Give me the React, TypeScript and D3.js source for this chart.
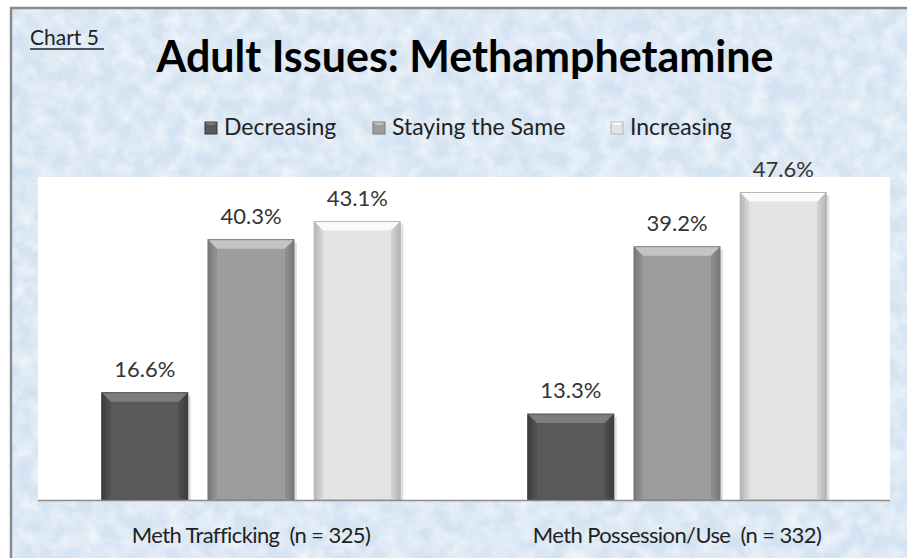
import React, { useEffect, useRef } from 'react';
import { select, scaleBand, scaleLinear } from 'd3';

const categories = ['Meth Trafficking  (n = 325)', 'Meth Possession/Use  (n = 332)'];
const seriesNames = ['Decreasing', 'Staying the Same', 'Increasing'];
const decreasing = [16.6, 13.3];
const stayingSame = [40.3, 39.2];
const increasing = [43.1, 47.6];

const seriesValues = [decreasing, stayingSame, increasing];

// base / bevel / edge colours per series
const barColors = [
  { base: '#595959', light: '#7d7d7d', dark: '#3b3b3b' },
  { base: '#9d9d9d', light: '#c4c4c4', dark: '#777777' },
  { base: '#e3e3e3', light: '#fafafa', dark: '#b4b4b4' },
];

const W = 907;
const H = 558;
const FONT = 'Lato, "Open Sans", sans-serif';

const App: React.FC = () => {
  const svgRef = useRef<SVGSVGElement>(null);

  useEffect(() => {
    if (!svgRef.current) return;
    const svg = select(svgRef.current);
    svg.selectAll('*').remove();

    const defs = svg.append('defs');
    const f = defs.append('filter').attr('id', 'paper').attr('x', 0).attr('y', 0).attr('width', '100%').attr('height', '100%');
    f.append('feTurbulence').attr('type', 'fractalNoise').attr('baseFrequency', 0.06).attr('numOctaves', 4).attr('seed', 7).attr('result', 'n');
    f.append('feColorMatrix').attr('in', 'n').attr('type', 'matrix')
      .attr('values', '0 0 0 0 1  0 0 0 0 1  0 0 0 0 1  1.6 0 0 0 -0.5');

    barColors.forEach((c, i) => {
      const g = defs.append('linearGradient').attr('id', `bar${i}`).attr('x1', 0).attr('x2', 1).attr('y1', 0).attr('y2', 0);
      g.append('stop').attr('offset', '0%').attr('stop-color', c.dark);
      g.append('stop').attr('offset', '8%').attr('stop-color', c.base);
      g.append('stop').attr('offset', '92%').attr('stop-color', c.base);
      g.append('stop').attr('offset', '100%').attr('stop-color', c.dark);
    });

    // background + frame
    svg.append('rect').attr('x', 0).attr('y', 0).attr('width', W).attr('height', H).attr('fill', '#ffffff');
    svg.append('rect').attr('x', 10).attr('y', 7).attr('width', W - 10).attr('height', H - 7).attr('fill', '#d4e3f2');
    svg.append('rect').attr('x', 10).attr('y', 7).attr('width', W - 10).attr('height', H - 7).attr('filter', 'url(#paper)').attr('opacity', 0.7);
    svg.append('path').attr('d', `M11,${H} V8 H${W}`).attr('fill', 'none').attr('stroke', '#8a8a8a').attr('stroke-width', 2.5);

    const plot = { left: 38, right: 890, top: 177, bottom: 500 };

    svg.append('rect').attr('x', plot.left).attr('y', plot.top)
      .attr('width', plot.right - plot.left).attr('height', plot.bottom - plot.top).attr('fill', '#ffffff');

    const x0 = scaleBand<string>().domain(categories).range([plot.left, plot.right]).padding(0);
    const x1 = scaleBand<string>().domain(seriesNames).range([0, x0.bandwidth()]).paddingInner(0.19).paddingOuter(0.6);
    const y = scaleLinear().domain([0, 50]).range([plot.bottom, plot.top]);

    // title
    svg.append('text').attr('x', 30).attr('y', 45).attr('font-family', FONT).attr('font-size', 21)
      .attr('fill', '#222').text('Chart 5');
    svg.append('line').attr('x1', 30).attr('x2', 104).attr('y1', 49).attr('y2', 49).attr('stroke', '#222').attr('stroke-width', 1.4);

    svg.append('text').attr('x', 465).attr('y', 72).attr('text-anchor', 'middle')
      .attr('font-family', FONT).attr('font-weight', 700).attr('font-size', 43).attr('fill', '#000')
      .text('Adult Issues: Methamphetamine');

    // legend
    const legendX = [205, 373, 611];
    seriesNames.forEach((name, i) => {
      const c = barColors[i];
      const lg = svg.append('g').attr('transform', `translate(${legendX[i]},122)`);
      lg.append('rect').attr('width', 12).attr('height', 12).attr('fill', c.base).attr('stroke', c.dark).attr('stroke-width', 1);
      lg.append('path').attr('d', 'M0.5,0.5 H11.5 L9,3 H3 Z').attr('fill', c.light);
      lg.append('text').attr('x', 19).attr('y', 13).attr('font-family', FONT).attr('font-size', 23)
        .attr('fill', '#222').text(name);
    });

    // bars
    categories.forEach((cat, ci) => {
      seriesNames.forEach((s, si) => {
        const v = seriesValues[si][ci];
        const bx = (x0(cat) as number) + (x1(s) as number);
        const bw = x1.bandwidth();
        const by = y(v);
        const bh = plot.bottom - by;
        const c = barColors[si];
        const g = svg.append('g');
        g.append('rect').attr('x', bx + 3).attr('y', by + 3).attr('width', bw).attr('height', bh - 3)
          .attr('fill', '#000').attr('opacity', 0.12);
        g.append('rect').attr('x', bx).attr('y', by).attr('width', bw).attr('height', bh)
          .attr('fill', `url(#bar${si})`).attr('stroke', c.dark).attr('stroke-width', 1);
        const b = 9;
        g.append('path').attr('d', `M${bx + 0.5},${by + 0.5} H${bx + bw - 0.5} L${bx + bw - b},${by + b} H${bx + b} Z`)
          .attr('fill', c.light);
        g.append('path').attr('d', `M${bx + 0.5},${by + 0.5} L${bx + b},${by + b} V${plot.bottom - 2} L${bx + 0.5},${plot.bottom}`)
          .attr('fill', c.dark).attr('opacity', 0.35);
        g.append('path').attr('d', `M${bx + bw - 0.5},${by + 0.5} L${bx + bw - b},${by + b} V${plot.bottom - 2} L${bx + bw - 0.5},${plot.bottom}`)
          .attr('fill', c.dark).attr('opacity', 0.45);
        g.append('text').attr('x', bx + bw / 2).attr('y', by - 16).attr('text-anchor', 'middle')
          .attr('font-family', FONT).attr('font-size', 22).attr('fill', '#333')
          .text(`${v.toFixed(1)}%`);
      });
      svg.append('text').attr('x', (x0(cat) as number) + x0.bandwidth() / 2).attr('y', 543).attr('text-anchor', 'middle')
        .attr('font-family', FONT).attr('font-size', 22).attr('letter-spacing', -0.6).attr('fill', '#222').attr('xml:space', 'preserve')
        .style('white-space', 'pre').text(cat);
    });

    // baseline
    svg.append('line').attr('x1', plot.left).attr('x2', plot.right).attr('y1', plot.bottom + 0.5).attr('y2', plot.bottom + 0.5)
      .attr('stroke', '#8c8c8c').attr('stroke-width', 1.5);
  }, []);

  return (
    <svg ref={svgRef} width={W} height={H} style={{ position: 'absolute', left: 0, top: 0, display: 'block' }} />
  );
};

export default App;
